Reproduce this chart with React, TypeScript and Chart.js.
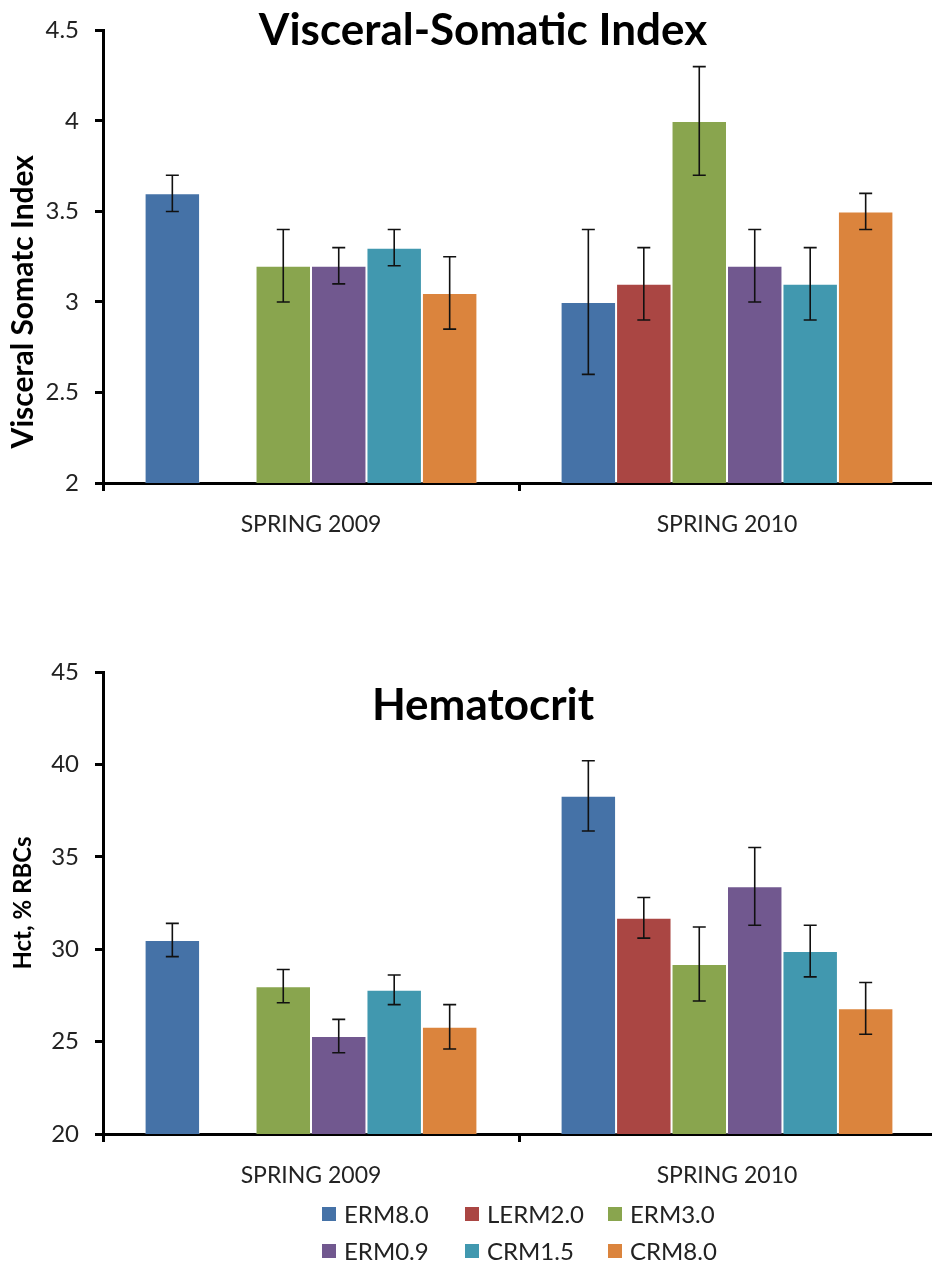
import React, { useEffect, useRef } from 'react';
import { Chart, registerables } from 'chart.js';

Chart.register(...registerables);

// ---------- data ----------
const categories = ['SPRING 2009', 'SPRING 2010'];
const seriesNames = ['ERM8.0', 'LERM2.0', 'ERM3.0', 'ERM0.9', 'CRM1.5', 'CRM8.0'];
const seriesColors = ['#4572A7', '#AA4643', '#89A54E', '#71588F', '#4198AF', '#DB843D'];

// Visceral-Somatic Index (mean, error)
const vsiERM80 = [3.6, 3.0];
const vsiLERM20 = [null, 3.1];
const vsiERM30 = [3.2, 4.0];
const vsiERM09 = [3.2, 3.2];
const vsiCRM15 = [3.3, 3.1];
const vsiCRM80 = [3.05, 3.5];
const vsiErrERM80 = [0.1, 0.4];
const vsiErrLERM20 = [null, 0.2];
const vsiErrERM30 = [0.2, 0.3];
const vsiErrERM09 = [0.1, 0.2];
const vsiErrCRM15 = [0.1, 0.2];
const vsiErrCRM80 = [0.2, 0.1];

// Hematocrit (mean, error)
const hctERM80 = [30.5, 38.3];
const hctLERM20 = [null, 31.7];
const hctERM30 = [28.0, 29.2];
const hctERM09 = [25.3, 33.4];
const hctCRM15 = [27.8, 29.9];
const hctCRM80 = [25.8, 26.8];
const hctErrERM80 = [0.9, 1.9];
const hctErrLERM20 = [null, 1.1];
const hctErrERM30 = [0.9, 2.0];
const hctErrERM09 = [0.9, 2.1];
const hctErrCRM15 = [0.8, 1.4];
const hctErrCRM80 = [1.2, 1.4];

const vsiValues = [vsiERM80, vsiLERM20, vsiERM30, vsiERM09, vsiCRM15, vsiCRM80];
const vsiErrors = [vsiErrERM80, vsiErrLERM20, vsiErrERM30, vsiErrERM09, vsiErrCRM15, vsiErrCRM80];
const hctValues = [hctERM80, hctLERM20, hctERM30, hctERM09, hctCRM15, hctCRM80];
const hctErrors = [hctErrERM80, hctErrLERM20, hctErrERM30, hctErrERM09, hctErrCRM15, hctErrCRM80];

const FONT = 'Lato, "Open Sans", sans-serif';
const CANVAS_W = 940;
const CANVAS_H = 600;

function makeErrorBarPlugin(errors: (number | null)[][]) {
  return {
    id: 'errorBars',
    afterDatasetsDraw(chart: any) {
      const ctx = chart.ctx;
      const yScale = chart.scales.y;
      chart.data.datasets.forEach((ds: any, di: number) => {
        const meta = chart.getDatasetMeta(di);
        meta.data.forEach((bar: any, i: number) => {
          const v = ds.data[i];
          const e = errors[di] ? errors[di][i] : null;
          if (v == null || e == null) return;
          const x = bar.x;
          const yTop = yScale.getPixelForValue(v + e);
          const yBot = yScale.getPixelForValue(v - e);
          ctx.save();
          ctx.strokeStyle = '#111';
          ctx.lineWidth = 1.6;
          ctx.beginPath();
          ctx.moveTo(x, yTop);
          ctx.lineTo(x, yBot);
          ctx.moveTo(x - 6.5, yTop);
          ctx.lineTo(x + 6.5, yTop);
          ctx.moveTo(x - 6.5, yBot);
          ctx.lineTo(x + 6.5, yBot);
          ctx.stroke();
          ctx.restore();
        });
      });
    },
  };
}

// y-axis title drawn beside the axis (Excel places it off-centre on the first chart)
function makeYTitlePlugin(text: string, size: number, dy: number) {
  return {
    id: 'yTitleText',
    afterDraw(chart: any) {
      const { ctx, chartArea } = chart;
      ctx.save();
      ctx.translate(23, (chartArea.top + chartArea.bottom) / 2 + dy);
      ctx.rotate(-Math.PI / 2);
      ctx.font = `bold ${size}px ${FONT}`;
      ctx.fillStyle = '#000';
      ctx.textAlign = 'center';
      ctx.textBaseline = 'middle';
      ctx.fillText(text, 0, 0);
      ctx.restore();
    },
  };
}

function buildConfig(opts: {
  title: string;
  yTitle: string;
  yTitleSize: number;
  yTitleDy: number;
  values: (number | null)[][];
  errors: (number | null)[][];
  min: number;
  max: number;
  step: number;
  titlePadTop: number;
  titlePadBottom: number;
  padBottom: number;
}): any {
  return {
    type: 'bar',
    data: {
      labels: categories,
      datasets: seriesNames.map((name, i) => ({
        label: name,
        data: opts.values[i],
        backgroundColor: seriesColors[i],
        borderColor: 'rgba(255,255,255,0.35)',
        borderWidth: 1,
        categoryPercentage: 0.8,
        barPercentage: 1.0,
      })),
    },
    options: {
      responsive: false,
      animation: false,
      layout: { padding: { left: 31, right: 5, top: 0, bottom: opts.padBottom } },
      plugins: {
        legend: { display: false },
        tooltip: { enabled: false },
        title: {
          display: true,
          text: opts.title,
          color: '#000',
          font: { family: FONT, size: 44, weight: 'bold', lineHeight: 1 },
          padding: { top: opts.titlePadTop, bottom: opts.titlePadBottom },
        },
      },
      scales: {
        x: {
          type: 'category',
          offset: true,
          grid: {
            offset: true,
            drawOnChartArea: false,
            drawTicks: true,
            tickLength: 8,
            color: '#000',
            lineWidth: 3,
          },
          border: { display: true, color: '#000', width: 3 },
          ticks: {
            color: '#222',
            padding: 20,
            font: { family: FONT, size: 23 },
          },
          afterFit: (scale: any) => {
            scale.height = 60;
          },
        },
        y: {
          min: opts.min,
          max: opts.max,
          ticks: {
            stepSize: opts.step,
            color: '#222',
            padding: 16,
            font: { family: FONT, size: 24 },
            callback: (v: any) => String(v),
          },
          grid: {
            drawOnChartArea: false,
            drawTicks: true,
            tickLength: 8,
            color: '#000',
            lineWidth: 3,
          },
          border: { display: true, color: '#000', width: 3 },
          title: { display: false },
          afterFit: (scale: any) => {
            scale.width = 72;
          },
        },
      },
    },
    plugins: [
      makeErrorBarPlugin(opts.errors),
      makeYTitlePlugin(opts.yTitle, opts.yTitleSize, opts.yTitleDy),
    ],
  };
}

export default function App() {
  const topRef = useRef<HTMLCanvasElement | null>(null);
  const bottomRef = useRef<HTMLCanvasElement | null>(null);

  useEffect(() => {
    document.body.style.margin = '0';
    const c1 = new Chart(
      topRef.current as HTMLCanvasElement,
      buildConfig({
        title: 'Visceral-Somatic Index',
        yTitle: 'Visceral Somatc Index',
        yTitleSize: 30,
        yTitleDy: 45,
        values: vsiValues,
        errors: vsiErrors,
        min: 2,
        max: 4.5,
        step: 0.5,
        titlePadTop: -2,
        titlePadBottom: 20 - 44 + 2,
        padBottom: CANVAS_H - 483 - 60,
      })
    );
    const c2 = new Chart(
      bottomRef.current as HTMLCanvasElement,
      buildConfig({
        title: 'Hematocrit',
        yTitle: 'Hct, % RBCs',
        yTitleSize: 24,
        yTitleDy: 0,
        values: hctValues,
        errors: hctErrors,
        min: 20,
        max: 45,
        step: 5,
        titlePadTop: 84,
        titlePadBottom: 72 - 44 - 84,
        padBottom: CANVAS_H - 534 - 60,
      })
    );
    return () => {
      c1.destroy();
      c2.destroy();
    };
  }, []);

  const legendRows = [
    [0, 1, 2],
    [3, 4, 5],
  ];

  return (
    <div
      style={{
        position: 'relative',
        width: 932,
        height: 1264,
        overflow: 'hidden',
        background: '#fff',
        fontFamily: FONT,
      }}
    >
      <canvas
        ref={topRef}
        width={CANVAS_W}
        height={CANVAS_H}
        style={{ position: 'absolute', left: 0, top: 0, width: CANVAS_W, height: CANVAS_H }}
      />
      <canvas
        ref={bottomRef}
        width={CANVAS_W}
        height={CANVAS_H}
        style={{ position: 'absolute', left: 0, top: 600, width: CANVAS_W, height: CANVAS_H }}
      />
      <div style={{ position: 'absolute', left: 322, top: 1200 }}>
        {legendRows.map((row, ri) => (
          <div key={ri} style={{ display: 'flex', height: 28, marginBottom: ri === 0 ? 9 : 0 }}>
            {row.map((si) => (
              <div
                key={si}
                style={{ width: 143, display: 'flex', alignItems: 'center', height: 28 }}
              >
                <span
                  style={{
                    display: 'inline-block',
                    width: 14,
                    height: 14,
                    background: seriesColors[si],
                    marginRight: 8,
                  }}
                />
                <span style={{ fontSize: 24, color: '#222', lineHeight: '28px' }}>
                  {seriesNames[si]}
                </span>
              </div>
            ))}
          </div>
        ))}
      </div>
    </div>
  );
}
